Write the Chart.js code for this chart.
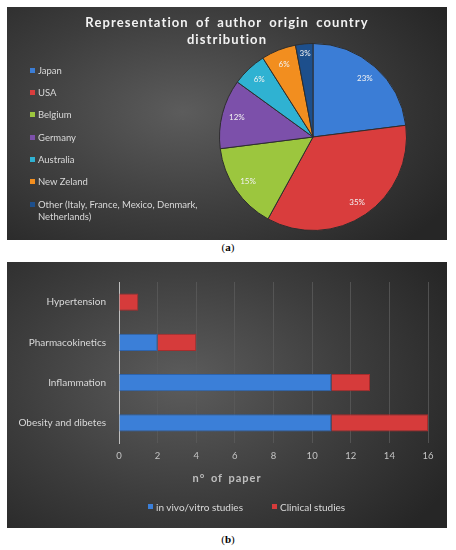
<!DOCTYPE html>
<html>
<head>
<meta charset="utf-8">
<script src="https://cdn.jsdelivr.net/npm/chart.js@4.4.1/dist/chart.umd.min.js"></script>
<style>
  body { margin: 0; background: #fff; width: 456px; height: 550px; position: relative; overflow: hidden; font-family: Lato, sans-serif; }
  .panel { position: absolute; left: 7px; width: 440px; background: radial-gradient(ellipse 70% 80% at 40% 45%, #5c5c5c 0%, #3d3d3d 55%, #262626 100%); }
  #pa { top: 7px; height: 233px; }
  #pb { top: 262px; height: 266px; }
  .panel canvas { position: absolute; left: 0; top: 0; }
  .title { position: absolute; left: 0; width: 440px; top: 7px; text-align: center; color: #f2f2f2; font-weight: bold; font-size: 13px; letter-spacing: 1.1px; line-height: 17px; word-spacing: 3px; }
  .eixo { position: absolute; left: 0; width: 440px; top: 209px; text-align: center; color: #bfbfbf; font-weight: bold; font-size: 11px; letter-spacing: 1px; word-spacing: 2px; }
  .leg { position: absolute; color: #d9d9d9; font-size: 9.5px; line-height: 12px; }
  .leg i { position: absolute; left: -8px; top: 3px; width: 5px; height: 5px; }
  .cap { position: absolute; width: 456px; text-align: center; font-family: "Liberation Serif", serif; font-size: 11px; color: #000; }
</style>
</head>
<body>
<div class="panel" id="pa">
  <canvas id="chartPais" width="440" height="233"></canvas>
  <div class="title">Representation of author origin country<br>distribution</div>
  <div id="legendaPais"></div>
</div>
<div class="cap" style="top:241px">(<b>a</b>)</div>
<div class="panel" id="pb">
  <canvas id="chartEstudos" width="440" height="266"></canvas>
  <div class="eixo">n° of paper</div>
  <div id="legendaEstudos"></div>
</div>
<div class="cap" style="top:533px">(<b>b</b>)</div>
<script>
// dados do grafico (a)
const paises = ['Japan', 'USA', 'Belgium', 'Germany', 'Australia', 'New Zeland', 'Other (Italy, France, Mexico, Denmark, Netherlands)'];
const percentuais = [23, 35, 15, 12, 6, 6, 3];
const coresPaises = ['#3b7dd6', '#d93d3d', '#9cc63e', '#7c50aa', '#2fb2d2', '#f28e1f', '#1d4f8c'];

// dados do grafico (b)
const temas = ['Hypertension', 'Pharmacokinetics', 'Inflammation', 'Obesity and dibetes'];
const inVivoVitro = [0, 2, 11, 11];
const clinicos = [1, 2, 2, 5];
const ticksX = [0, 2, 4, 6, 8, 10, 12, 14, 16];

// rotulos de porcentagem dentro das fatias
const rotulosPizza = {
    id: 'rotulosPizza',
    afterDatasetsDraw(chart) {
        const ctx = chart.ctx;
        const meta = chart.getDatasetMeta(0);
        ctx.save();
        ctx.fillStyle = '#f2f2f2';
        ctx.font = '8px Lato';
        ctx.textAlign = 'center';
        ctx.textBaseline = 'middle';
        meta.data.forEach((arc, i) => {
            const meio = (arc.startAngle + arc.endAngle) / 2;
            const r = arc.outerRadius * (percentuais[i] < 5 ? 0.9 : 0.84);
            ctx.fillText(percentuais[i] + '%', arc.x + Math.cos(meio) * r, arc.y + Math.sin(meio) * r);
        });
        ctx.restore();
    }
};

new Chart(document.getElementById('chartPais'), {
    type: 'pie',
    data: {
        labels: paises,
        datasets: [{
            data: percentuais,
            backgroundColor: coresPaises,
            borderColor: '#2e2e2e',
            borderWidth: 1
        }]
    },
    options: {
        responsive: false,
        animation: false,
        layout: { padding: { left: 212, right: 40, top: 36, bottom: 9 } },
        plugins: { legend: { display: false }, tooltip: { enabled: false } }
    },
    plugins: [rotulosPizza]
});

// legenda do grafico (a)
var legendaPais = document.getElementById('legendaPais');
var posY = [58, 80, 102, 125, 147, 169, 192];
paises.forEach((p, i) => {
    var d = document.createElement('div');
    d.className = 'leg';
    d.style.left = '31px';
    d.style.top = posY[i] + 'px';
    d.style.width = '175px';
    d.innerHTML = '<i style="background:' + coresPaises[i] + '"></i>' + p;
    legendaPais.appendChild(d);
});

new Chart(document.getElementById('chartEstudos'), {
    type: 'bar',
    data: {
        labels: temas,
        datasets: [{
            label: 'in vivo/vitro studies',
            data: inVivoVitro,
            backgroundColor: '#3b7fd8',
            borderColor: '#2c63ad',
            borderWidth: 1,
            categoryPercentage: 1,
            barPercentage: 0.43
        }, {
            label: 'Clinical studies',
            data: clinicos,
            backgroundColor: '#d63b3b',
            borderColor: '#a82c2c',
            borderWidth: 1,
            categoryPercentage: 1,
            barPercentage: 0.43
        }]
    },
    options: {
        responsive: false,
        animation: false,
        indexAxis: 'y',
        layout: { padding: { left: 0, right: 19, top: 20, bottom: 38 } },
        plugins: { legend: { display: false }, tooltip: { enabled: false } },
        scales: {
            x: {
                stacked: true,
                min: 0,
                max: 16,
                afterBuildTicks: (s) => { s.ticks = ticksX.map(v => ({ value: v })); },
                afterFit: (s) => { s.height = 47; },
                grid: { color: '#5a5a5a', drawTicks: false, lineWidth: 0.8 },
                border: { display: false },
                ticks: { color: '#c4c4c4', font: { family: 'Lato', size: 9.5 }, padding: 7 }
            },
            y: {
                stacked: true,
                afterFit: (s) => { s.width = 112; },
                grid: { display: false },
                border: { display: true, color: '#bfbfbf', width: 1 },
                ticks: { color: '#d9d9d9', font: { family: 'Lato', size: 10 }, padding: 5 }
            }
        }
    }
});

// legenda do grafico (b)
var legendaEstudos = document.getElementById('legendaEstudos');
var coresEstudos = ['#3b7fd8', '#d63b3b'];
var posX = [148, 272];
['in vivo/vitro studies', 'Clinical studies'].forEach((t, i) => {
    var d = document.createElement('div');
    d.className = 'leg';
    d.style.left = (posX[i] - 7 + 8) + 'px';
    d.style.top = '239px';
    d.style.fontSize = '10px';
    d.innerHTML = '<i style="background:' + coresEstudos[i] + '"></i>' + t;
    legendaEstudos.appendChild(d);
});
</script>
</body>
</html>
